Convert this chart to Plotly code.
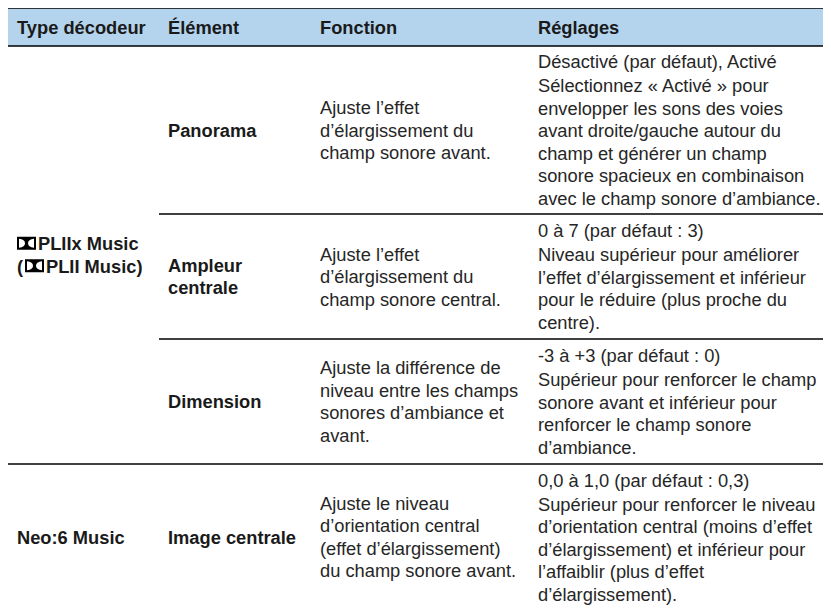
import plotly.graph_objects as go

# ---- table content ----
headers = ["Type décodeur", "Élément", "Fonction", "Réglages"]

decoder_dolby = ["PLIIx Music", "PLII Music)"]
decoder_neo = "Neo:6 Music"

elements = [["Panorama"], ["Ampleur", "centrale"], ["Dimension"], ["Image centrale"]]

fonctions = [
    ["Ajuste l’effet", "d’élargissement du", "champ sonore avant."],
    ["Ajuste l’effet", "d’élargissement du", "champ sonore central."],
    ["Ajuste la différence de", "niveau entre les champs", "sonores d’ambiance et", "avant."],
    ["Ajuste le niveau", "d’orientation central", "(effet d’élargissement)", "du champ sonore avant."],
]

reglages = [
    [["Désactivé (par défaut), Activé"],
     ["Sélectionnez « Activé » pour", "envelopper les sons des voies",
      "avant droite/gauche autour du", "champ et générer un champ",
      "sonore spacieux en combinaison", "avec le champ sonore d’ambiance."]],
    [["0 à 7 (par défaut : 3)"],
     ["Niveau supérieur pour améliorer", "l’effet d’élargissement et inférieur",
      "pour le réduire (plus proche du", "centre)."]],
    [["-3 à +3 (par défaut : 0)"],
     ["Supérieur pour renforcer le champ", "sonore avant et inférieur pour",
      "renforcer le champ sonore", "d’ambiance."]],
    [["0,0 à 1,0 (par défaut : 0,3)"],
     ["Supérieur pour renforcer le niveau", "d’orientation central (moins d’effet",
      "d’élargissement) et inférieur pour", "l’affaiblir (plus d’effet",
      "d’élargissement)."]],
]

# ---- layout parameters (pixels, page coordinates) ----
W, H = 831, 608
PAGE_MARGIN = 8          # default body margin of the html page
col_x = [15, 166, 318, 536]
left_edge = 8
sub_left = 159
top_line = 8
header_bottom = 46
row_bounds = [46, 214, 339, 464, 610]
LH = 22.5
PARA_GAP = 1.5
FS = 18.3
FONT = "Liberation Sans, Arial, Helvetica, sans-serif"
TXT = "#1a1a1a"
TXT_LIGHT = "#262626"
HEADER_BG = "#b4d4ee"

fig = go.Figure()
shapes = []
annotations = []


def add_text(x, y, text, bold=False):
    annotations.append(dict(
        x=x, y=y, xref="x", yref="y", text=text, showarrow=False,
        xanchor="left", yanchor="middle",
        font=dict(family=FONT, size=FS, color=TXT if bold else TXT_LIGHT,
                  weight="bold" if bold else "normal"),
    ))


def lines_block(lines_groups, top, bottom):
    """Return y centers for lines of paragraphs, centred vertically in row."""
    n = sum(len(g) for g in lines_groups)
    total = (n - 1) * LH + (len(lines_groups) - 1) * PARA_GAP
    y = (top + bottom) / 2 - total / 2
    out = []
    for g in lines_groups:
        for ln in g:
            out.append((y, ln))
            y += LH
        y += PARA_GAP
    return out


# header band
shapes.append(dict(type="rect", x0=left_edge, x1=W, y0=top_line, y1=header_bottom,
                   fillcolor=HEADER_BG, line=dict(width=0), layer="below"))
shapes.append(dict(type="line", x0=left_edge, x1=W, y0=top_line, y1=top_line,
                   line=dict(color="black", width=1.6)))
shapes.append(dict(type="line", x0=left_edge, x1=W, y0=header_bottom, y1=header_bottom,
                   line=dict(color="black", width=1.6)))
for cx, h in zip(col_x, headers):
    add_text(cx, (top_line + header_bottom) / 2 + 0.5, h, bold=True)

# row separators
for i, yb in enumerate(row_bounds[1:-1]):
    x0 = left_edge if i == 2 else sub_left
    shapes.append(dict(type="line", x0=x0, x1=W, y0=yb, y1=yb,
                       line=dict(color="black", width=1.3)))

# element / fonction / reglages cells
for r in range(4):
    top, bottom = row_bounds[r], row_bounds[r + 1]
    for y, ln in lines_block([elements[r]], top, bottom):
        add_text(col_x[1], y, ln, bold=True)
    for y, ln in lines_block([fonctions[r]], top, bottom):
        add_text(col_x[2], y, ln)
    for y, ln in lines_block(reglages[r], top, bottom):
        add_text(col_x[3], y, ln)

# decoder cells
dolby_lines = lines_block([decoder_dolby], row_bounds[0], row_bounds[3])
logo_w, logo_h = 19, 13


def dolby_logo(x0, yc):
    y0, y1 = yc - logo_h / 2, yc + logo_h / 2
    shapes.append(dict(type="rect", x0=x0, x1=x0 + logo_w, y0=y0, y1=y1,
                       fillcolor="black", line=dict(width=0)))
    a, b = y0 + 2, y1 - 2
    lx = x0 + 2
    shapes.append(dict(type="path",
                       path=f"M {lx},{a} C {lx+8},{a} {lx+8},{b} {lx},{b} Z",
                       fillcolor="white", line=dict(width=0)))
    rx = x0 + logo_w - 2
    shapes.append(dict(type="path",
                       path=f"M {rx},{a} C {rx-8},{a} {rx-8},{b} {rx},{b} Z",
                       fillcolor="white", line=dict(width=0)))


(y1, t1), (y2, t2) = dolby_lines
dolby_logo(17, y1 - 0.5)
add_text(36, y1, t1, bold=True)
add_text(col_x[0], y2, "(", bold=True)
dolby_logo(25, y2 - 0.5)
add_text(44, y2, t2, bold=True)

for y, ln in lines_block([[decoder_neo]], row_bounds[3], row_bounds[4]):
    add_text(col_x[0], y, ln, bold=True)

fig.update_layout(
    width=W - PAGE_MARGIN, height=H - PAGE_MARGIN, margin=dict(l=0, r=0, t=0, b=0),
    paper_bgcolor="white", plot_bgcolor="white",
    xaxis=dict(range=[PAGE_MARGIN, W], visible=False, fixedrange=True),
    yaxis=dict(range=[H, PAGE_MARGIN], visible=False, fixedrange=True),
    shapes=shapes, annotations=annotations, showlegend=False,
)
fig.write_html("out.html")
